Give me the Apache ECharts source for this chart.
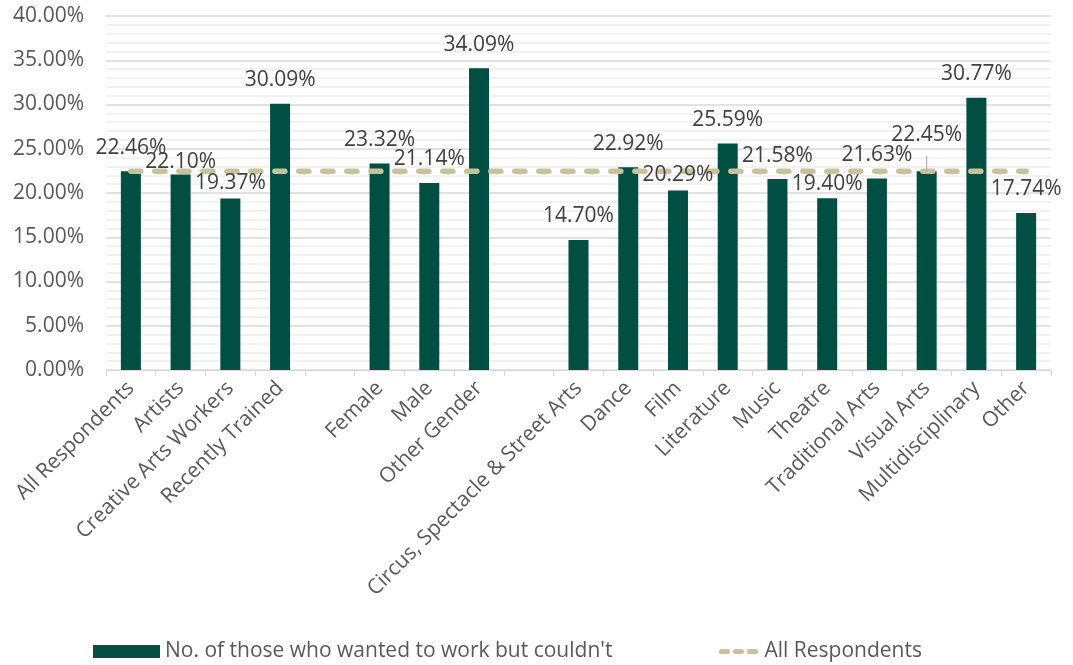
<!DOCTYPE html>
<html>
<head>
<meta charset="utf-8">
<script src="https://cdn.jsdelivr.net/npm/echarts@6/dist/echarts.min.js"></script>
<style>html,body{margin:0;padding:0;background:#fff;}#c{width:1073px;height:665px;}</style>
</head>
<body>
<div id="c"></div>
<script>
const categories = ["All Respondents","Artists","Creative Arts Workers","Recently Trained"," ","Female","Male","Other Gender","  ","Circus, Spectacle & Street Arts","Dance","Film","Literature","Music","Theatre","Traditional Arts","Visual Arts","Multidisciplinary","Other"];
const barName = "No. of those who wanted to work but couldn't";
const barValues = [22.46, 22.10, 19.37, 30.09, null, 23.32, 21.14, 34.09, null, 14.70, 22.92, 20.29, 25.59, 21.58, 19.40, 21.63, 22.45, 30.77, 17.74];
const lineName = "All Respondents";
const lineValues = [22.46, 22.46, 22.46, 22.46, 22.46, 22.46, 22.46, 22.46, 22.46, 22.46, 22.46, 22.46, 22.46, 22.46, 22.46, 22.46, 22.46, 22.46, 22.46];
const yTicks = {min: 0, max: 40, interval: 5};

// label vertical nudges (layout only), indexed like categories
const labelNudge = {1: 11, 2: 8, 11: 8, 14: 9, 16: -13};

const FONT = "'Open Sans', sans-serif";
const FS = 21;
const chart = echarts.init(document.getElementById('c'), null, {renderer: 'canvas'});

const barData = barValues.map(v => v === null ? '-' : v);
const labelData = barValues.map((v, i) => {
  if (v === null) return '-';
  const item = {value: v};
  if (labelNudge[i] !== undefined) {
    item.label = {offset: [0, labelNudge[i]]};
    if (i === 16) item.labelLine = {show: true, lineStyle: {color: '#a6a6a6', width: 1}};
  }
  return item;
});

chart.setOption({
  animation: false,
  textStyle: {fontFamily: FONT},
  grid: {left: 106, right: 22, top: 16, bottom: 295, containLabel: false},
  legend: [
    {data: [{name: barName, icon: 'rect'}], left: 88, top: 636, itemWidth: 67, itemHeight: 13, itemGap: 0,
     textStyle: {fontFamily: FONT, fontSize: FS, color: '#595959'}},
    {data: [{name: lineName, itemStyle: {opacity: 0}, lineStyle: {type: [6, 8], width: 5, cap: 'round'}}],
     left: 714, top: 636, itemWidth: 38, itemHeight: 13,
     textStyle: {fontFamily: FONT, fontSize: FS, color: '#595959'}}
  ],
  xAxis: {
    type: 'category', data: categories, boundaryGap: true,
    axisLine: {lineStyle: {color: '#d9d9d9', width: 1}},
    axisTick: {show: true, length: 6, lineStyle: {color: '#d9d9d9'}},
    axisLabel: {rotate: 45, interval: 0, margin: 15, fontFamily: FONT, fontSize: FS, color: '#595959'}
  },
  yAxis: {
    type: 'value', min: yTicks.min, max: yTicks.max, interval: yTicks.interval,
    axisLine: {show: false}, axisTick: {show: false},
    axisLabel: {margin: 22, fontFamily: FONT, fontSize: FS, color: '#595959', formatter: v => v.toFixed(2) + '%'},
    splitLine: {lineStyle: {color: '#d9d9d9', width: 1.5}},
    minorTick: {show: false, splitNumber: 5},
    minorSplitLine: {show: true, lineStyle: {color: '#eeeeee', width: 1.5}}
  },
  series: [
    {
      name: barName, type: 'bar', data: barData, barWidth: 20,
      itemStyle: {color: '#004f42'},
      z: 2
    },
    {
      name: lineName, type: 'line', data: lineValues, symbol: 'none',
      lineStyle: {color: '#c9c19b', width: 5.5, type: [10, 14], cap: 'round'},
      itemStyle: {color: '#c9c19b'},
      z: 3
    },
    {
      name: 'labels', type: 'bar', data: labelData, barWidth: 20, barGap: '-100%',
      itemStyle: {color: 'rgba(0,0,0,0)'}, silent: true,
      label: {show: true, position: 'top', distance: 13, fontFamily: FONT, fontSize: FS, color: '#404040',
              formatter: p => Number(p.value).toFixed(2) + '%'},
      z: 5
    }
  ]
});
</script>
</body>
</html>
